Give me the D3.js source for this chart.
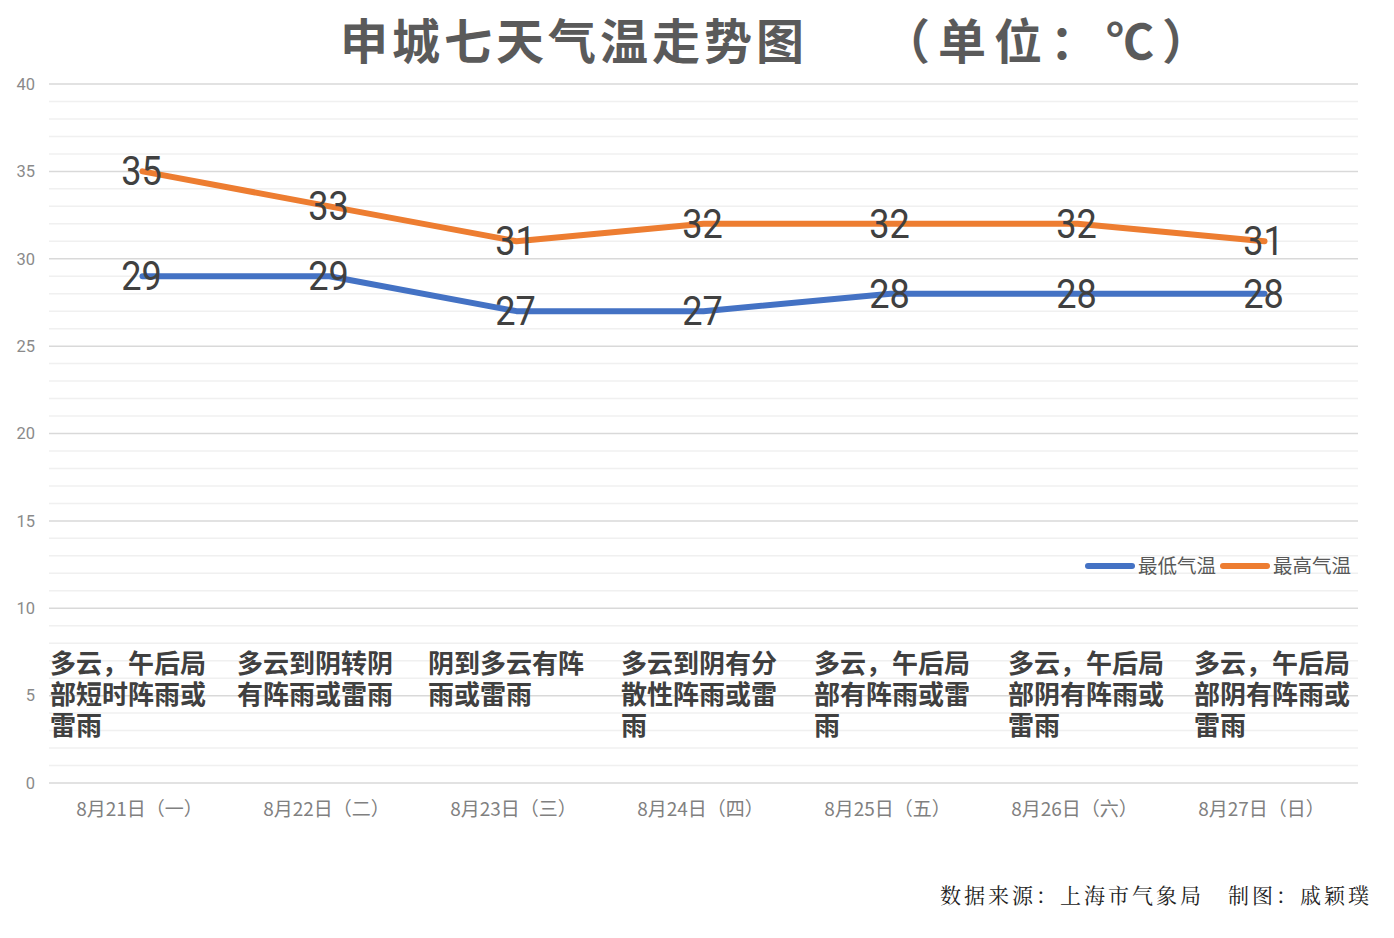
<!DOCTYPE html>
<html>
<head>
<meta charset="utf-8">
<script src="https://cdn.jsdelivr.net/npm/d3@7"></script>
<style>
  html, body { margin: 0; padding: 0; background: #ffffff; }
  svg { display: block; }
</style>
</head>
<body>
<svg id="chart" width="1394" height="938"></svg>
<script>
// ---- data ----
const categories = ["8月21日（一）", "8月22日（二）", "8月23日（三）", "8月24日（四）", "8月25日（五）", "8月26日（六）", "8月27日（日）"];
const lowTemps  = [29, 29, 27, 27, 28, 28, 28];
const highTemps = [35, 33, 31, 32, 32, 32, 31];
const weatherText = [
  "多云，午后局部短时阵雨或雷雨",
  "多云到阴转阴有阵雨或雷雨",
  "阴到多云有阵雨或雷雨",
  "多云到阴有分散性阵雨或雷雨",
  "多云，午后局部有阵雨或雷雨",
  "多云，午后局部阴有阵雨或雷雨",
  "多云，午后局部阴有阵雨或雷雨"
];
const seriesNames = ["最低气温", "最高气温"];
const yTicks = [0, 5, 10, 15, 20, 25, 30, 35, 40];
const titleMain = "申城七天气温走势图";
const titleUnit = "（单位：℃）";
const footerText = "数据来源：上海市气象局　制图：戚颖璞";

// ---- layout ----
const W = 1394, H = 938;
const plot = { left: 49, right: 1358, top: 84, bottom: 783 };
const colors = ["#4472C4", "#ED7D31"];
const descOffsets = [2, 2, 6, 12, 18, 25, 24];

const svg = d3.select("#chart");

const x = d3.scaleBand().domain(categories).range([plot.left, plot.right]).paddingInner(0).paddingOuter(0);
const xc = d => x(d) + x.bandwidth() / 2;
const y = d3.scaleLinear().domain([0, 40]).range([plot.bottom, plot.top]);

// gridlines (minor every 1, major every 5)
const minor = d3.range(0, 41, 1).filter(v => v % 5 !== 0);
svg.append("g").selectAll("line").data(minor).join("line")
  .attr("x1", plot.left).attr("x2", plot.right)
  .attr("y1", d => y(d)).attr("y2", d => y(d))
  .attr("stroke", "#f0f0f0").attr("stroke-width", 1.5);
svg.append("g").selectAll("line").data(yTicks).join("line")
  .attr("x1", plot.left).attr("x2", plot.right)
  .attr("y1", d => y(d)).attr("y2", d => y(d))
  .attr("stroke", "#d9d9d9").attr("stroke-width", 1.5);

// y axis labels
const yAxis = d3.axisLeft(y).tickValues(yTicks).tickSize(0).tickPadding(14);
const gy = svg.append("g").attr("transform", `translate(${plot.left},0)`).call(yAxis);
gy.select(".domain").remove();
gy.selectAll("text").attr("font-family", "Roboto, 'Noto Sans', sans-serif")
  .attr("font-size", 16.5).attr("fill", "#8a8a8a");

// x axis labels
const xAxis = d3.axisBottom(x).tickSize(0).tickPadding(20);
const gx = svg.append("g").attr("transform", `translate(0,${plot.bottom})`).call(xAxis);
gx.select(".domain").remove();
gx.selectAll("text").attr("font-family", "'Noto Sans CJK SC', sans-serif")
  .attr("font-size", 19).attr("fill", "#808080").attr("dx", -3);

// weather descriptions
const chunk = (s, n) => { const out = []; for (let i = 0; i < s.length; i += n) out.push(s.slice(i, i + n)); return out; };
const descG = svg.append("g");
categories.forEach((c, i) => {
  const lines = chunk(weatherText[i], 6);
  const t = descG.append("text")
    .attr("font-family", "'Noto Sans CJK SC', sans-serif")
    .attr("font-size", 26).attr("font-weight", 700).attr("fill", "#404040");
  lines.forEach((ln, j) => {
    t.append("tspan").attr("x", x(c) + descOffsets[i] - 1).attr("y", 673 + j * 31).text(ln);
  });
});

// lines
const lineGen = d3.line().x((d, i) => xc(categories[i])).y(d => y(d));
[lowTemps, highTemps].forEach((s, k) => {
  svg.append("path").datum(s).attr("d", lineGen)
    .attr("fill", "none").attr("stroke", colors[k]).attr("stroke-width", 6)
    .attr("stroke-linecap", "round").attr("stroke-linejoin", "round");
});

// data labels
[lowTemps, highTemps].forEach((s, k) => {
  svg.append("g").selectAll("text").data(s).join("text")
    .attr("transform", (d, i) => `translate(${xc(categories[i]) - 1},${y(d) + 14}) scale(0.88,1)`)
    .attr("text-anchor", "middle")
    .attr("font-family", "Roboto, 'Noto Sans', sans-serif")
    .attr("font-size", 41).attr("fill", "#404040")
    .text(d => d);
});

// legend
const leg = svg.append("g");
const legItems = [{ x1: 1088, x2: 1132, tx: 1138 }, { x1: 1223, x2: 1267, tx: 1273 }];
seriesNames.forEach((n, k) => {
  leg.append("line").attr("x1", legItems[k].x1).attr("x2", legItems[k].x2)
    .attr("y1", 566).attr("y2", 566).attr("stroke", colors[k]).attr("stroke-width", 6)
    .attr("stroke-linecap", "round");
  leg.append("text").attr("x", legItems[k].tx).attr("y", 573)
    .attr("font-family", "'Noto Sans CJK SC', sans-serif")
    .attr("font-size", 19.5).attr("fill", "#595959").text(n);
});

// title
svg.append("text").attr("x", 340).attr("y", 59)
  .attr("font-family", "'Noto Sans CJK SC', sans-serif").attr("font-weight", 700)
  .attr("font-size", 48).attr("letter-spacing", 4).attr("fill", "#5a5a5a").text(titleMain);
svg.append("text").attr("x", 882).attr("y", 59)
  .attr("font-family", "'Noto Sans CJK SC', sans-serif").attr("font-weight", 700)
  .attr("font-size", 48).attr("letter-spacing", 8).attr("fill", "#5a5a5a").text(titleUnit);

// footer
svg.append("text").attr("x", 1372).attr("y", 903).attr("text-anchor", "end")
  .attr("font-family", "'AR PL UMing CN', 'Noto Serif CJK SC', serif")
  .attr("font-size", 21).attr("letter-spacing", 3).attr("fill", "#222").text(footerText);
</script>
</body>
</html>
